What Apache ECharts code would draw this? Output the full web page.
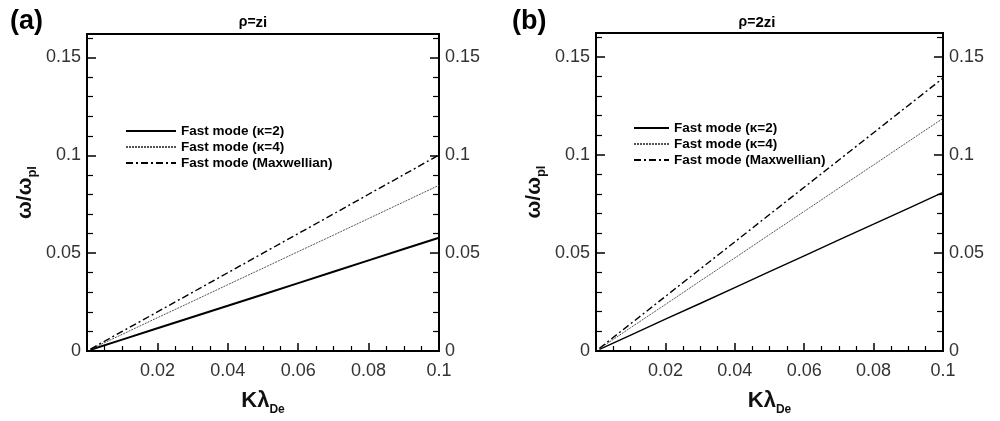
<!DOCTYPE html>
<html>
<head>
<meta charset="utf-8">
<script src="https://cdn.jsdelivr.net/npm/echarts@6/dist/echarts.min.js"></script>
<style>
html,body{margin:0;padding:0;background:#fff;}
#c{width:1000px;height:421px;}
</style>
</head>
<body>
<div id="c"></div>
<script>
// ---------- data ----------
const xValues = [0.001, 0.01, 0.02, 0.03, 0.04, 0.05, 0.06, 0.07, 0.08, 0.09, 0.1];
// panel (a) rho = zi
const aKappa2 = [0.0006, 0.0058, 0.0116, 0.0174, 0.0231, 0.0289, 0.0347, 0.0405, 0.0463, 0.0521, 0.0579];
const aKappa4 = [0.0009, 0.0085, 0.0170, 0.0254, 0.0339, 0.0423, 0.0508, 0.0592, 0.0677, 0.0762, 0.0847];
const aMaxw   = [0.0010, 0.0100, 0.0200, 0.0300, 0.0400, 0.0500, 0.0600, 0.0700, 0.0801, 0.0901, 0.1002];
// panel (b) rho = 2zi
const bKappa2 = [0.0008, 0.0081, 0.0162, 0.0242, 0.0323, 0.0404, 0.0485, 0.0566, 0.0646, 0.0727, 0.0808];
const bKappa4 = [0.0012, 0.0119, 0.0237, 0.0356, 0.0474, 0.0593, 0.0711, 0.0830, 0.0948, 0.1067, 0.1185];
const bMaxw   = [0.0014, 0.0139, 0.0278, 0.0417, 0.0556, 0.0695, 0.0834, 0.0973, 0.1112, 0.1251, 0.1390];
const seriesNames = ['Fast mode (κ=2)', 'Fast mode (κ=4)', 'Fast mode (Maxwellian)'];
const yMajorTicks = [0, 0.05, 0.1, 0.15];
const yMinorTicks = [0.01, 0.02, 0.03, 0.04, 0.06, 0.07, 0.08, 0.09, 0.11, 0.12, 0.13, 0.14, 0.16];
const panelTitles = ['(a)', '(b)'];
const rhoLabels = ['zi', '2zi'];

// ---------- chart ----------
const FONT = '"Liberation Sans", Arial, Helvetica, sans-serif';
const chart = echarts.init(document.getElementById('c'), null, {renderer: 'canvas'});

const grids = [
  {left: 87, top: 34, width: 352, height: 321},
  {left: 596, top: 33, width: 347, height: 321}
];

function pair(xs, ys) { return xs.map((x, i) => [x, ys[i]]); }

const xAxes = [], yAxes = [];
grids.forEach((g, gi) => {
  xAxes.push({
    type: 'value', gridIndex: gi, min: 0, max: 0.1, interval: 0.02,
    name: '{b|Kλ}{s|De}', nameLocation: 'middle', nameGap: 39,
    nameTextStyle: {
      rich: {
        b: {fontFamily: FONT, fontSize: 22, fontWeight: 'bold', color: '#111', verticalAlign: 'top'},
        s: {fontFamily: FONT, fontSize: 12, fontWeight: 'bold', color: '#111', verticalAlign: 'top', padding: [14, 0, 0, 0]}
      }
    },
    axisLine: {show: true, onZero: false, lineStyle: {color: '#000', width: 2}},
    axisTick: {show: true, inside: true, length: 8, lineStyle: {color: '#000', width: 1.5}},
    minorTick: {show: true, splitNumber: 4, length: 5, lineStyle: {color: '#000', width: 1.2}},
    axisLabel: {showMinLabel: false, fontFamily: FONT, fontSize: 18, color: '#333', margin: 11},
    splitLine: {show: false}
  });
  const base = {
    type: 'value', gridIndex: gi, min: 0, max: 0.162,
    splitLine: {show: false}
  };
  yAxes.push(Object.assign({}, base, {
    position: 'left',
    name: '{b|ω/ω}{s|pl}', nameLocation: 'middle', nameGap: 48, nameRotate: 90,
    nameTextStyle: {
      rich: {
        b: {fontFamily: FONT, fontSize: 21, fontWeight: 'bold', color: '#111', verticalAlign: 'top'},
        s: {fontFamily: FONT, fontSize: 13, fontWeight: 'bold', color: '#111', verticalAlign: 'top', padding: [11, 0, 0, 0]}
      }
    },
    axisLine: {show: true, onZero: false, lineStyle: {color: '#000', width: 2}},
    axisTick: {show: true, inside: true, length: 9, customValues: yMajorTicks, lineStyle: {color: '#000', width: 1.5}},
    axisLabel: {customValues: yMajorTicks, fontFamily: FONT, fontSize: 18, color: '#333', margin: 6}
  }));
  yAxes.push(Object.assign({}, base, {
    position: 'left',
    axisLine: {show: false},
    axisTick: {show: true, inside: true, length: 6, customValues: yMinorTicks, lineStyle: {color: '#000', width: 1.2}},
    axisLabel: {show: false}
  }));
  yAxes.push(Object.assign({}, base, {
    position: 'right',
    axisLine: {show: true, onZero: false, lineStyle: {color: '#000', width: 2}},
    axisTick: {show: true, inside: true, length: 9, customValues: yMajorTicks, lineStyle: {color: '#000', width: 1.5}},
    axisLabel: {customValues: yMajorTicks, fontFamily: FONT, fontSize: 18, color: '#333', margin: 6}
  }));
  yAxes.push(Object.assign({}, base, {
    position: 'right',
    axisLine: {show: false},
    axisTick: {show: true, inside: true, length: 6, customValues: yMinorTicks, lineStyle: {color: '#000', width: 1.2}},
    axisLabel: {show: false}
  }));
});

const dashDot = [7, 3, 2, 3];
function mkSeries(gi, name, ys, style) {
  return {
    type: 'line', name: name, xAxisIndex: gi, yAxisIndex: gi * 4,
    data: pair(xValues, ys), symbol: 'none', silent: true, animation: false,
    itemStyle: {color: '#000'},
    lineStyle: style
  };
}
// zero-width suffix keeps panel (b) legend entries distinct from panel (a)
const zw = '\u200b';
const series = [
  mkSeries(0, seriesNames[0], aKappa2, {color: '#000', width: 2, type: 'solid'}),
  mkSeries(0, seriesNames[1], aKappa4, {color: '#555', width: 1, type: [2, 1]}),
  mkSeries(0, seriesNames[2], aMaxw, {color: '#000', width: 1.4, type: dashDot}),
  mkSeries(1, seriesNames[0] + zw, bKappa2, {color: '#000', width: 1.4, type: 'solid'}),
  mkSeries(1, seriesNames[1] + zw, bKappa4, {color: '#555', width: 1, type: [2, 1]}),
  mkSeries(1, seriesNames[2] + zw, bMaxw, {color: '#000', width: 1.4, type: dashDot})
];

const legendText = {fontFamily: FONT, fontSize: 13.5, fontWeight: 'bold', color: '#000'};
const legendCommon = {orient: 'vertical', itemHeight: 14, itemGap: 2, padding: 0,
  itemStyle: {opacity: 0}, textStyle: legendText, selectedMode: false};
const legends = [
  Object.assign({left: 125, top: 124, itemWidth: 50, data: seriesNames}, legendCommon),
  Object.assign({left: 633, top: 121, itemWidth: 35, data: seriesNames.map(n => n + zw)}, legendCommon)
];

const graphics = [];
[10, 512].forEach((x, i) => {
  graphics.push({
    type: 'text', left: x, top: 8,
    style: {text: panelTitles[i], font: 'bold 27px ' + FONT, fill: '#000'}
  });
});
const titles = [248, 752].map((x, i) => ({
  left: x, top: 10, textAlign: 'center',
  text: '{n|ρ=}{b|' + rhoLabels[i] + '}',
  textStyle: {
    rich: {
      n: {fontFamily: FONT, fontSize: 14, color: '#000'},
      b: {fontFamily: FONT, fontSize: 15, fontWeight: 'bold', color: '#000'}
    }
  }
}));

chart.setOption({
  animation: false,
  backgroundColor: '#fff',
  title: titles,
  grid: grids.map(g => Object.assign({show: true, borderColor: '#000', borderWidth: 2, backgroundColor: 'transparent'}, g)),
  xAxis: xAxes,
  yAxis: yAxes,
  legend: legends,
  series: series,
  graphic: graphics
});
</script>
</body>
</html>
